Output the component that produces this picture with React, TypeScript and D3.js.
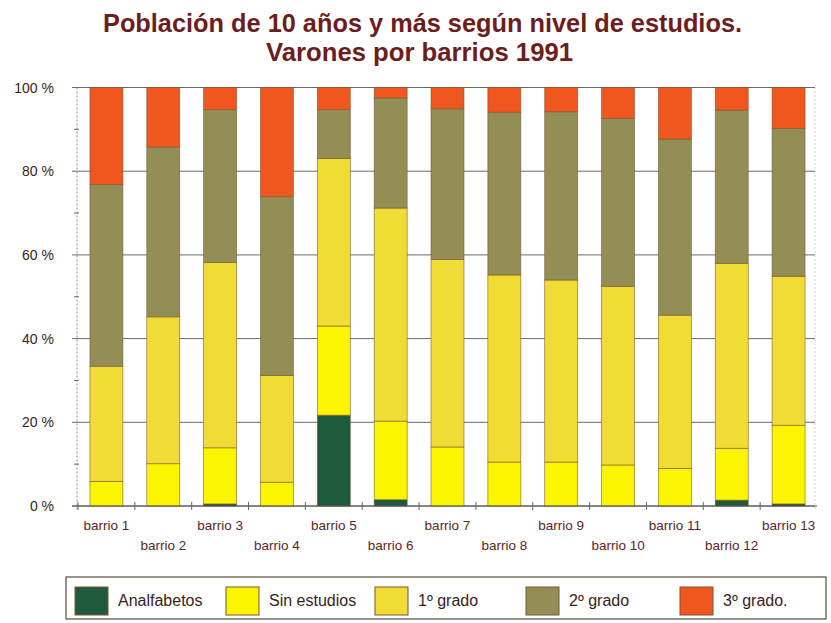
import * as d3 from "d3";

// Población de 10 años y más según nivel de estudios — varones por barrios, 1991
const barrios = [
  "barrio 1", "barrio 2", "barrio 3", "barrio 4", "barrio 5", "barrio 6", "barrio 7",
  "barrio 8", "barrio 9", "barrio 10", "barrio 11", "barrio 12", "barrio 13",
];
const niveles = ["Analfabetos", "Sin estudios", "1º grado", "2º grado", "3º grado."];

// % per barrio
const analfabetos = [0, 0, 0.5, 0, 21.7, 1.5, 0, 0, 0, 0, 0, 1.4, 0.5];
const sinEstudios = [5.9, 10.1, 13.4, 5.7, 21.3, 18.8, 14.1, 10.5, 10.5, 9.8, 9.0, 12.4, 18.8];
const primerGrado = [27.5, 35.1, 44.3, 25.5, 40.0, 50.9, 44.8, 44.7, 43.5, 42.7, 36.6, 44.2, 35.6];
const segundoGrado = [43.4, 40.6, 36.5, 42.7, 11.7, 26.3, 36.0, 38.9, 40.2, 40.1, 42.1, 36.6, 35.3];
const tercerGrado = [23.2, 14.2, 5.3, 26.1, 5.3, 2.5, 5.1, 5.9, 5.8, 7.4, 12.3, 5.4, 9.8];
const yTicks = [0, 20, 40, 60, 80, 100];

const series = [analfabetos, sinEstudios, primerGrado, segundoGrado, tercerGrado];
const colors = ["#1f5a3c", "#fbf500", "#f1dc36", "#928e56", "#f0561f"];

const W = 831;
const H = 623;
const L = 77;
const R = 817;
const T = 87.5;
const B = 506;

const rows = barrios.map((b, i) => {
  const row: Record<string, number | string> = { barrio: b };
  niveles.forEach((n, k) => (row[n] = series[k][i]));
  return row;
});
const stacked = d3.stack<Record<string, number | string>>().keys(niveles)(rows as any);

const x = d3.scaleBand<string>().domain(barrios).range([L + 1, R]).paddingInner(0.42).paddingOuter(0.21);
const y = d3.scaleLinear().domain([0, 100]).range([B, T]);

const FONT = "'Liberation Sans', Arial, Helvetica, sans-serif";

export default function App() {
  const step = x.step();
  return (
    <svg width={W} height={H} viewBox={`0 0 ${W} ${H}`} style={{ position: "absolute", left: 0, top: 0, background: "#fff" }} fontFamily={FONT}>
      <text x={422.5} y={32} textAnchor="middle" fontSize={25} fontWeight={700} fill="#6c1d1d" textLength={639} lengthAdjust="spacingAndGlyphs">
        Población de 10 años y más según nivel de estudios.
      </text>
      <text x={419.5} y={61} textAnchor="middle" fontSize={25} fontWeight={700} fill="#6c1d1d" textLength={307} lengthAdjust="spacingAndGlyphs">
        Varones por barrios 1991
      </text>

      {/* grid + y axis */}
      {yTicks.map((t) => (
        <g key={t}>
          <line x1={L - 5} x2={R - 2} y1={y(t)} y2={y(t)} stroke="#6a6a6a" strokeWidth={1} />
          <text x={54} y={y(t) + 5} textAnchor="end" fontSize={14} fill="#3c2222">{`${t} %`}</text>
        </g>
      ))}
      {d3.range(10, 100, 20).map((t) => (
        <line key={t} x1={L - 3} x2={L + 2} y1={y(t)} y2={y(t)} stroke="#666" strokeWidth={1} />
      ))}
      <line x1={L} x2={L} y1={T} y2={B + 4} stroke="#888" strokeWidth={1} strokeDasharray="2 2" />
      <line x1={R - 2} x2={R - 2} y1={T} y2={B + 4} stroke="#aaa" strokeWidth={1} strokeDasharray="1 3" />

      {/* bars */}
      {stacked.map((s, k) =>
        s.map((d, i) => {
          const h = y(d[0]) - y(d[1]);
          if (h <= 0) return null;
          return (
            <rect
              key={`${k}-${i}`}
              x={x(barrios[i])!}
              y={y(d[1])}
              width={x.bandwidth()}
              height={h}
              fill={colors[k]}
              stroke="#7a5530"
              strokeWidth={0.7}
              strokeOpacity={0.8}
            />
          );
        })
      )}

      {/* x axis */}
      <line x1={L - 5} x2={R} y1={B} y2={B} stroke="#555" strokeWidth={1} />
      {barrios.map((b, i) => (
        <g key={b}>
          <line x1={x(b)! - (step - x.bandwidth()) / 2} x2={x(b)! - (step - x.bandwidth()) / 2} y1={B - 4} y2={B + 4} stroke="#666" />
          <text x={x(b)! + x.bandwidth() / 2} y={i % 2 === 0 ? 530 : 550} textAnchor="middle" fontSize={13.5} fill="#5a2626">
            {b}
          </text>
        </g>
      ))}

      {/* legend */}
      <rect x={66} y={577} width={760} height={42} fill="#fff" stroke="#5a4a40" strokeWidth={1.2} />
      {niveles.map((n, k) => {
        const lx = [75, 226, 375, 526, 680][k];
        return (
          <g key={n}>
            <rect x={lx} y={587} width={33} height={28} fill={colors[k]} stroke="#7a5530" strokeWidth={1} />
            <text x={lx + 43} y={606} fontSize={16} fill="#3a1c1c">{n}</text>
          </g>
        );
      })}
    </svg>
  );
}
